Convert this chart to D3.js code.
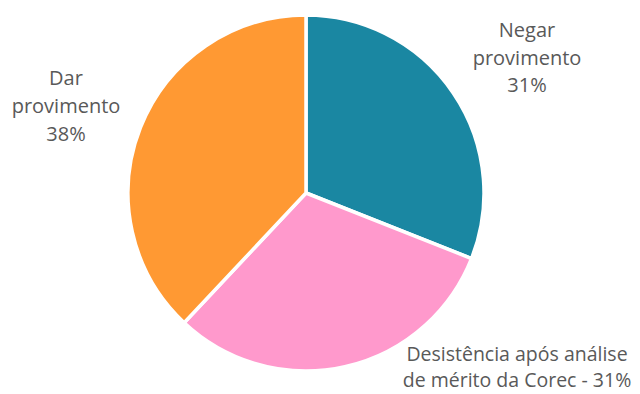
<!DOCTYPE html>
<html>
<head>
<meta charset="utf-8">
<script src="https://cdn.jsdelivr.net/npm/d3@7"></script>
<style>
  body { margin: 0; background: #fff; }
  svg text { font-family: "Open Sans", "Liberation Sans", sans-serif; fill: #595959; }
</style>
</head>
<body>
<div id="chart"></div>
<script>
// chart data
var categorias = ["Negar provimento", "Desistência após análise de mérito da Corec", "Dar provimento"];
var valores = [31, 31, 38];
var cores = ["#1a87a2", "#ff99cc", "#ff9933"];
// label lines as shown in the reference
var rotulos = [
    ["Negar", "provimento", "31%"],
    ["Desistência após análise", "de mérito da Corec - 31%"],
    ["Dar", "provimento", "38%"]
];

var width = 640, height = 394,
    cx = 306, cy = 193, radius = 178;

var svg = d3.select("#chart").append("svg")
    .attr("width", width)
    .attr("height", height);

var pie = d3.pie().sort(null).value(function (d) { return d; });
var arc = d3.arc().innerRadius(0).outerRadius(radius);

var g = svg.append("g")
    .attr("transform", "translate(" + cx + "," + cy + ")");

g.selectAll("path")
    .data(pie(valores))
    .enter().append("path")
    .attr("d", arc)
    .style("fill", function (d, i) { return cores[i]; })
    .style("stroke", "#fff")
    .style("stroke-width", 3.5)
    .style("stroke-linejoin", "round");

// label anchors (center x, first baseline y, line step, font size)
var posRotulos = [
    { x: 527, y: 37, h: 27.5, fs: 20 },
    { x: 517, y: 361, h: 26, fs: 19.5 },
    { x: 66, y: 85, h: 28, fs: 20 }
];

rotulos.forEach(function (linhas, i) {
    var t = svg.append("text")
        .attr("text-anchor", "middle")
        .style("font-size", posRotulos[i].fs + "px");
    linhas.forEach(function (l, j) {
        t.append("tspan")
            .attr("x", posRotulos[i].x)
            .attr("y", posRotulos[i].y + j * posRotulos[i].h)
            .text(l);
    });
});
</script>
</body>
</html>
